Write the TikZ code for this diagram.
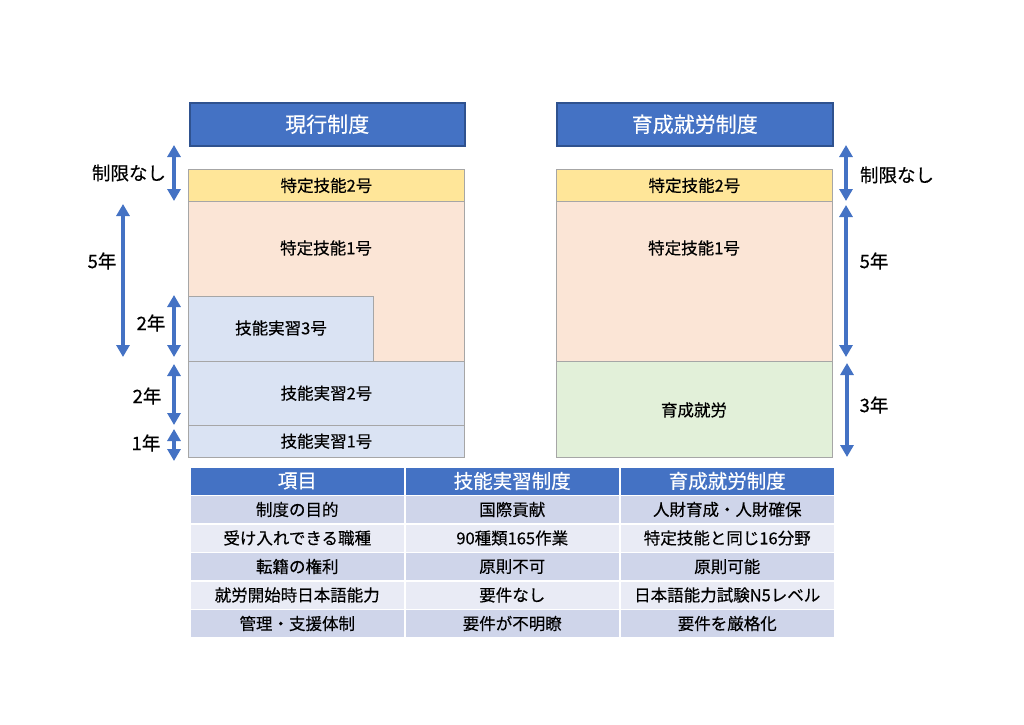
\documentclass[tikz,border=0pt]{standalone}
\usepackage{fontspec}
\setmainfont{Noto Sans CJK JP}[FakeBold=0.35]
\usetikzlibrary{arrows.meta}
\definecolor{hdblue}{HTML}{4472C4}
\definecolor{hdedge}{HTML}{2F528F}
\definecolor{gold}{HTML}{FFE699}
\definecolor{peach}{HTML}{FBE5D6}
\definecolor{lblue}{HTML}{DAE3F3}
\definecolor{lgreen}{HTML}{E2F0D9}
\definecolor{rowA}{HTML}{CFD5EA}
\definecolor{rowB}{HTML}{E9EBF5}
\definecolor{edgegray}{HTML}{A6A6A6}
\tikzset{
  hdbox/.style={draw=hdedge, line width=1.5pt, fill=hdblue, text=white, font=\fontsize{21}{25}\selectfont},
  blk/.style={draw=edgegray, line width=0.9pt},
  lbl/.style={font=\fontsize{16.5}{19}\selectfont, text=black},
  side/.style={font=\fontsize{18.5}{21}\selectfont, text=black},
  span/.style={draw=hdblue, line width=4pt, {Triangle[width=13pt,length=12pt]}-{Triangle[width=13pt,length=12pt]}},
  cell/.style={draw=white, line width=1.5pt, minimum width=215pt, minimum height=28.5pt, anchor=north west, inner sep=0pt, font=\fontsize{16.5}{19}\selectfont},
  thcell/.style={cell, fill=hdblue, text=white, font=\fontsize{19.5}{22}\selectfont},
}
\begin{document}
\begin{tikzpicture}[x=1pt,y=-1pt]
\useasboundingbox[fill=white] (0,0) rectangle (1024,724);

% headers
\node[hdbox, minimum width=275pt, minimum height=43pt, anchor=north west, inner sep=0pt] (hL) at (189,102) {現行制度};
\node[hdbox, minimum width=276pt, minimum height=43pt, anchor=north west, inner sep=0pt] (hR) at (556,102) {育成就労制度};

% left column
\node[blk, fill=gold, minimum width=276pt, minimum height=32pt, anchor=north west, inner sep=0pt, lbl] (L2) at (188,169) {特定技能2号};
\node[blk, fill=peach, minimum width=276pt, minimum height=160pt, anchor=north west, inner sep=0pt] (L1) at (188,201) {};
\node[lbl] (L1t) at (326,248) {特定技能1号};
\node[blk, fill=lblue, minimum width=185pt, minimum height=65pt, anchor=north west, inner sep=0pt] (L3g) at (188,296) {};
\node[lbl] (L3t) at (281,328) {技能実習3号};
\node[blk, fill=lblue, minimum width=276pt, minimum height=63.5pt, anchor=north west, inner sep=0pt, lbl] (G2) at (188,361) {技能実習2号};
\node[blk, fill=lblue, minimum width=276pt, minimum height=32.5pt, anchor=north west, inner sep=0pt, lbl] (G1) at (188,424.5) {技能実習1号};

% right column
\node[blk, fill=gold, minimum width=276pt, minimum height=32pt, anchor=north west, inner sep=0pt, lbl] (R2) at (556,169) {特定技能2号};
\node[blk, fill=peach, minimum width=276pt, minimum height=160pt, anchor=north west, inner sep=0pt] (R1) at (556,201) {};
\node[lbl] (R1t) at (694,248) {特定技能1号};
\node[blk, fill=lgreen, minimum width=276pt, minimum height=96pt, anchor=north west, inner sep=0pt] (R0) at (556,361) {};
\node[lbl] (R0t) at (694,410) {育成就労};

% left spans
\coordinate (a1s) at (174,145); \coordinate (a1e) at (174,201);
\coordinate (a2s) at (123,204); \coordinate (a2e) at (123,357);
\coordinate (a3s) at (174,295); \coordinate (a3e) at (174,357);
\coordinate (a4s) at (174,364); \coordinate (a4e) at (174,425);
\coordinate (a5s) at (174,429); \coordinate (a5e) at (174,461);
\draw[span] (a1s) -- (a1e);
\draw[span] (a2s) -- (a2e);
\draw[span] (a3s) -- (a3e);
\draw[span] (a4s) -- (a4e);
\draw[span] (a5s) -- (a5e);
\node[side] (s1) at (129,173) {制限なし};
\node[side] (s2) at (102,261) {5年};
\node[side] (s3) at (151,323) {2年};
\node[side] (s4) at (147,396) {2年};
\node[side] (s5) at (146,443) {1年};

% right spans
\coordinate (b1s) at (846,145); \coordinate (b1e) at (846,201);
\coordinate (b2s) at (846,205); \coordinate (b2e) at (846,357);
\coordinate (b3s) at (847,363); \coordinate (b3e) at (847,457);
\draw[span] (b1s) -- (b1e);
\draw[span] (b2s) -- (b2e);
\draw[span] (b3s) -- (b3e);
\node[side] (t1) at (897,175) {制限なし};
\node[side] (t2) at (874,261) {5年};
\node[side] (t3) at (874,405) {3年};

% table
\node[thcell] (th1) at (189,466) {項目};
\node[thcell] (th2) at (404,466) {技能実習制度};
\node[thcell] (th3) at (619,466) {育成就労制度};

\node[cell, fill=rowA] (c11) at (189,494.5) {制度の目的};
\node[cell, fill=rowA] (c12) at (404,494.5) {国際貢献};
\node[cell, fill=rowA] (c13) at (619,494.5) {人財育成・人財確保};

\node[cell, fill=rowB] (c21) at (189,523) {受け入れできる職種};
\node[cell, fill=rowB] (c22) at (404,523) {90種類165作業};
\node[cell, fill=rowB] (c23) at (619,523) {特定技能と同じ16分野};

\node[cell, fill=rowA] (c31) at (189,551.5) {転籍の権利};
\node[cell, fill=rowA] (c32) at (404,551.5) {原則不可};
\node[cell, fill=rowA] (c33) at (619,551.5) {原則可能};

\node[cell, fill=rowB] (c41) at (189,580) {就労開始時日本語能力};
\node[cell, fill=rowB] (c42) at (404,580) {要件なし};
\node[cell, fill=rowB] (c43) at (619,580) {日本語能力試験N5レベル};

\node[cell, fill=rowA] (c51) at (189,608.5) {管理・支援体制};
\node[cell, fill=rowA] (c52) at (404,608.5) {要件が不明瞭};
\node[cell, fill=rowA] (c53) at (619,608.5) {要件を厳格化};
\end{tikzpicture}
\end{document}
